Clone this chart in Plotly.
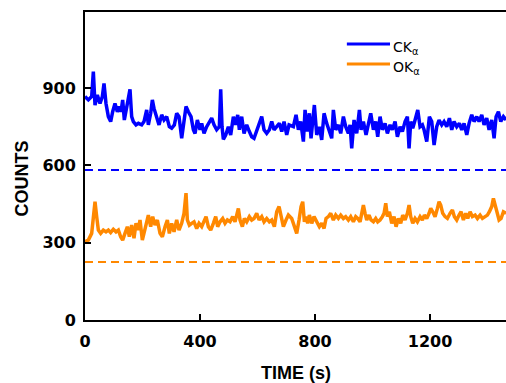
import plotly.graph_objects as go

# ---- data ----
ck_time = [0, 11.6, 23.2, 29, 34.8, 42.9, 52.2, 60.3, 66.1, 73.0, 81.2, 89.3, 96.2, 104.3, 112.5, 119.4,
           125.2, 131.0, 136.8, 150.7, 156.5, 162.3, 168.1, 177.4, 185.5, 197.1, 205.2, 214.5, 220.3,
           228.4, 234.2, 240.0, 249.3, 257.4, 266.7, 274.8, 284.1, 293.3, 301.4, 310.7, 318.8, 326.9,
           336.2, 344.3, 351.3, 359.4, 368.7, 376.8, 382.6, 390.7, 400.0, 405.8, 413.9, 423.2, 432.4,
           440.6, 448.7, 457.9, 467.2, 471.9, 476.5, 481.1, 489.3, 498.5, 506.6, 515.9, 524.0, 531.0,
           536.8, 544.9, 553.0, 562.3, 571.6, 579.7, 587.8, 597.1, 605.2, 614.5, 622.6, 631.9, 641.1,
           649.3, 657.4, 666.7, 675.9, 684.1, 692.2, 701.4, 709.6,
           724.6, 733.9, 742.0, 750.1, 759.4, 765.2, 773.3, 780.2, 786.0, 791.8, 797.6, 805.8, 815.0,
           823.1, 831.3, 840.5, 848.7, 857.9, 863.7, 871.8, 881.1, 889.2, 898.5, 906.6, 915.9, 921.7,
           927.5, 935.6, 944.9, 954.2, 960.0, 968.1, 977.3, 985.5, 993.6, 1002.9, 1011.0, 1017.9,
           1026.0, 1034.2, 1043.4, 1051.5, 1060.8, 1068.9, 1078.2, 1086.3, 1095.6, 1103.7, 1113.0,
           1121.1, 1126.9, 1132.7, 1139.7, 1147.8, 1157.1, 1165.2, 1173.3, 1179.1, 1188.4, 1197.6,
           1205.7, 1213.9, 1223.1, 1231.2, 1240.5, 1248.6, 1257.9, 1267.2, 1275.3, 1283.4, 1292.7,
           1302.0, 1310.1, 1318.2, 1327.5, 1335.6, 1344.9, 1353.0, 1362.3, 1370.4, 1379.7, 1387.8,
           1397.0, 1405.2, 1414.4, 1422.6, 1429.5, 1437.6, 1445.8, 1455.0, 1464.3]
ck_counts = [867, 854, 867, 964, 834, 873, 840, 867, 918, 840, 789, 770, 808, 840, 808, 828,
             808, 854, 776, 854, 895, 789, 770, 757, 763, 757, 770, 815, 757,
             802, 854, 821, 783, 757, 796, 776, 789, 750, 744, 757, 802, 789,
             705, 776, 828, 808, 789, 738, 724, 776, 738, 763, 724, 750, 770,
             783, 757, 738, 750, 895, 750, 701, 718, 750, 718, 789, 757, 796,
             738, 789, 724, 757, 731, 711, 705, 738, 763, 789, 738, 724, 738,
             770, 738, 750, 763, 731, 770, 718, 757,
             750, 796, 738, 770, 692, 815, 731, 802, 705, 789, 834, 718, 750,
             699, 802, 763, 738, 705, 815, 738, 757, 724, 789, 750, 724, 757,
             666, 776, 724, 815, 738, 770, 718, 757, 802, 738, 770, 711,
             789, 738, 763, 724, 757, 738, 770, 711, 750, 731, 770,
             789, 666, 770, 744, 776, 815, 750, 757, 738, 692, 789,
             770, 679, 750, 776, 757, 770, 750, 783, 738, 770, 750,
             763, 738, 763, 718, 763, 796, 770, 789, 770, 796, 757,
             783, 738, 776, 705, 789, 808, 770, 789, 776]

ok_time = [0, 11.6, 23.2, 29, 34.8, 40.6, 46.4, 54.5, 63.8, 73.0, 81.2, 89.3, 98.5, 107.8, 116.0,
           124.0, 131.0, 139.1, 147.2, 154.2, 162.3, 170.4, 177.4, 185.5, 191.3, 199.4, 208.7, 214.5,
           220.3, 228.4, 235.4, 243.5, 251.6, 260.9, 269.0, 278.3, 286.4, 293.3, 301.4, 309.6, 318.8,
           326.9, 336.2, 344.3, 351.3, 355.9, 362.9, 371.0, 379.1, 388.4, 396.5, 405.8, 413.9, 420.9,
           429.0, 437.1, 446.4, 454.5, 461.4, 469.6, 478.8, 486.9, 495.1, 504.3, 513.6, 521.7, 527.5,
           533.3, 539.1, 547.2, 554.2, 562.3, 571.6, 579.7, 587.8, 597.1, 605.2, 614.5, 622.6, 631.9,
           641.1, 649.3, 658.5, 666.7, 674.8, 681.7, 689.9, 699.1, 707.2,
           718.8, 724.6, 730.4, 736.2, 744.3, 751.3, 757.1, 762.9, 768.7, 774.4, 780.2, 788.4, 796.5,
           805.8, 815.0, 823.1, 831.3, 838.2, 846.3, 854.4, 863.7, 871.8, 881.1, 889.2, 898.5, 906.6,
           915.9, 924.0, 933.3, 941.4, 948.4, 956.5, 962.3, 968.1, 973.9, 979.7, 987.8, 994.7,
           1002.9, 1011.0, 1017.9, 1026.0, 1034.2, 1040.0, 1045.8, 1051.5, 1058.5, 1066.6, 1074.7,
           1081.7, 1089.8, 1097.9, 1104.9, 1113.0, 1121.1, 1126.9, 1132.7, 1139.7, 1147.8, 1155.9,
           1165.2, 1173.3, 1180.2, 1188.4, 1196.5, 1202.3, 1209.2, 1217.3, 1225.5, 1231.2, 1237.0,
           1244.0, 1252.1, 1260.2, 1269.5, 1277.6, 1284.6, 1292.7, 1300.8, 1307.8, 1315.9, 1324.0,
           1331.0, 1339.1, 1347.2, 1356.5, 1364.6, 1373.9, 1382.0, 1391.2, 1399.4, 1406.3, 1414.4,
           1420.2, 1426.0, 1431.8, 1439.9, 1446.9, 1455.0, 1464.3]
ok_counts = [304, 310, 336, 388, 459, 401, 349, 336, 349, 342, 349, 339, 352, 342, 349,
             323, 310, 336, 362, 323, 368, 317, 375, 349, 388, 310, 349, 375,
             407, 362, 401, 368, 388, 336, 323, 362, 388, 336, 375, 342, 388,
             349, 375, 414, 492, 388, 368, 375, 381, 355, 375, 362, 381, 401,
             362, 349, 375, 401, 362, 381, 394, 375, 388, 381, 401, 381, 407,
             433, 388, 362, 394, 381, 401, 388, 394, 414, 388, 401, 381, 394,
             381, 388, 362, 420, 440, 401, 362, 388, 407,
             394, 375, 349, 336, 388, 440, 459, 381, 401, 375, 407, 375, 401,
             381, 362, 375, 355, 394, 401, 414, 388, 407, 394, 407, 394, 401,
             388, 401, 381, 401, 394, 381, 414, 446, 414, 388, 407, 388,
             381, 394, 381, 388, 401, 414, 453, 401, 420, 375, 401,
             362, 394, 375, 407, 388, 414, 446, 401, 375, 394, 381,
             401, 388, 407, 394, 414, 433, 420, 401, 433, 459, 446,
             414, 401, 394, 414, 427, 401, 388, 407, 420, 388, 414,
             394, 420, 401, 407, 394, 407, 394, 401, 407, 420, 440,
             472, 446, 414, 388, 394, 420, 414]

ck_baseline = 582
ok_baseline = 225

series_names = ["CK<sub>α</sub>", "OK<sub>α</sub>"]
x_ticks = [0, 400, 800, 1200]
y_ticks = [0, 300, 600, 900]
x_max = 1464
y_max = 1195

BLUE = "#0000ff"
ORANGE = "#ff8800"

fig = go.Figure()
fig.add_trace(go.Scatter(x=[0, x_max], y=[ck_baseline, ck_baseline], mode="lines",
                         line=dict(color=BLUE, width=2, dash="8px,5px"), showlegend=False,
                         hoverinfo="skip"))
fig.add_trace(go.Scatter(x=[0, x_max], y=[ok_baseline, ok_baseline], mode="lines",
                         line=dict(color=ORANGE, width=2, dash="8px,5px"), showlegend=False,
                         hoverinfo="skip"))
fig.add_trace(go.Scatter(x=ck_time, y=ck_counts, mode="lines", name=series_names[0],
                         line=dict(color=BLUE, width=3.5), showlegend=False))
fig.add_trace(go.Scatter(x=ok_time, y=ok_counts, mode="lines", name=series_names[1],
                         line=dict(color=ORANGE, width=3.5), showlegend=False))

# manual legend (line samples + labels)
legend_rows = [(0.896, BLUE, series_names[0]), (0.831, ORANGE, series_names[1])]
for yy, col, label in legend_rows:
    fig.add_shape(type="line", xref="paper", yref="paper", x0=0.622, x1=0.7245, y0=yy, y1=yy,
                  line=dict(color=col, width=3))
    fig.add_annotation(xref="paper", yref="paper", x=0.727, y=yy - 0.012, text=label, showarrow=False,
                       xanchor="left", yanchor="middle",
                       font=dict(family="DejaVu Sans", size=14, color="black"))

# axis titles
fig.add_annotation(xref="paper", yref="paper", x=0.5, y=-0.171, text="TIME (s)", showarrow=False,
                   xanchor="center", yanchor="middle",
                   font=dict(family="Liberation Sans, Arial", size=18, color="black", weight="bold"))
fig.add_annotation(xref="paper", yref="paper", x=-0.149, y=0.46, text="COUNTS", showarrow=False,
                   textangle=-90, xanchor="center", yanchor="middle",
                   font=dict(family="Liberation Sans, Arial", size=18, color="black", weight="bold"))

tickfont = dict(family="DejaVu Sans", size=16, color="black", weight="bold")
fig.update_xaxes(range=[0, x_max], tickvals=x_ticks, ticktext=[str(v) for v in x_ticks],
                 showline=True, linecolor="black", linewidth=2, mirror=True,
                 ticks="inside", ticklen=6, tickwidth=2, tickcolor="black",
                 showgrid=False, zeroline=False, tickfont=tickfont, ticklabelstandoff=6)
fig.update_yaxes(range=[0, y_max], tickvals=y_ticks, ticktext=[str(v) for v in y_ticks],
                 showline=True, linecolor="black", linewidth=2, mirror=False,
                 ticks="inside", ticklen=6, tickwidth=2, tickcolor="black",
                 showgrid=False, zeroline=False, tickfont=tickfont, ticklabelstandoff=4)
fig.update_layout(width=506, height=383, margin=dict(l=85, r=0, t=12, b=63),
                  paper_bgcolor="white", plot_bgcolor="white", showlegend=False)

fig.write_html("out.html", config={"displayModeBar": False},
               post_script="document.body.style.margin='0px';")
